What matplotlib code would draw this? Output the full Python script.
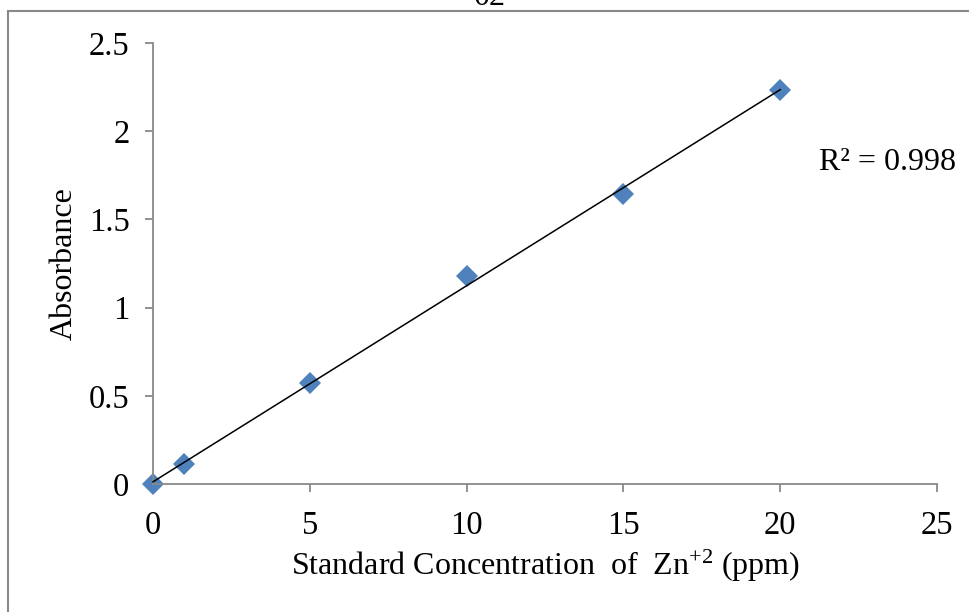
import numpy as np
import matplotlib.pyplot as plt
from matplotlib.patches import Rectangle

plt.rcParams['font.family'] = ['Liberation Serif', 'DejaVu Serif']
plt.rcParams['mathtext.fontset'] = 'custom'
plt.rcParams['mathtext.rm'] = 'Liberation Serif'
plt.rcParams['mathtext.it'] = 'Liberation Serif:italic'

# Zn+2 calibration standards
conc = np.array([0, 1, 5, 10, 15, 20])  # ppm
absorbance = np.array([0.0, 0.113, 0.573, 1.179, 1.644, 2.234])
r2_label = 'R² = 0.998'
xticks = [0, 5, 10, 15, 20, 25]
yticks = [0, 0.5, 1, 1.5, 2, 2.5]
ytick_labels = ['0', '0.5', '1', '1.5', '2', '2.5']

# linear trendline
slope, intercept = np.polyfit(conc, absorbance, 1)
xfit = np.array([conc.min(), conc.max()])
yfit = slope * xfit + intercept

fig = plt.figure(figsize=(9.7, 6.12), dpi=100)
ax = fig.add_axes([153 / 970, 1 - 484 / 612, (937 - 153) / 970, (484 - 43) / 612])

gray = '#898989'
ax.plot(conc, absorbance, linestyle='none', marker='D', markersize=11.5,
        color='#4F81BD', markeredgewidth=0, zorder=2, clip_on=False)
ax.plot(xfit, yfit, color='black', linewidth=1.1, zorder=3, clip_on=False)

ax.set_xlim(0, 25)
ax.set_ylim(0, 2.5)
ax.set_xticks(xticks)
ax.set_yticks(yticks)
ax.set_yticklabels(ytick_labels)
for s in ['top', 'right']:
    ax.spines[s].set_visible(False)
for s in ['left', 'bottom']:
    ax.spines[s].set_color(gray)
    ax.spines[s].set_linewidth(1.3)
ax.tick_params(axis='both', direction='out', length=6, width=1.3, color=gray,
               labelsize=23.5)
ax.tick_params(axis='x', pad=13)
ax.tick_params(axis='y', pad=11)

ax.set_xlabel(r'Standard Concentration  of  Zn$^{\mathrm{+2}}$ (ppm)', fontsize=23,
              labelpad=5)
ax.set_ylabel('Absorbance', fontsize=23, labelpad=7)

fig.text(819 / 970, 1 - 163 / 612, r2_label, fontsize=23, va='center', ha='left')

# cut-off heading above the chart frame
fig.text(490 / 970, 1 - 5 / 612, '02', fontsize=23, ha='center', va='baseline')

# outer chart frame
fig.patches.append(Rectangle((8.5 / 970, -0.1), 1.2, 1 - 10.5 / 612 + 0.1,
                             transform=fig.transFigure, fill=False,
                             edgecolor=gray, linewidth=1.5))

fig.savefig('out.png', dpi=100)
